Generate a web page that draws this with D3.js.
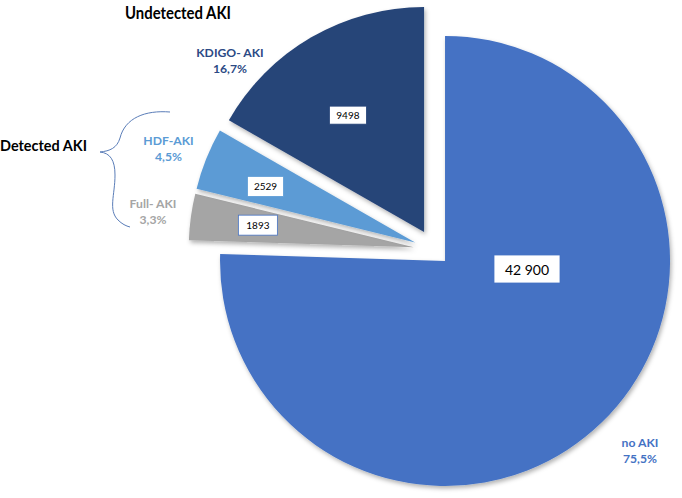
<!DOCTYPE html>
<html>
<head>
<meta charset="utf-8">
<script src="https://cdn.jsdelivr.net/npm/d3@7/dist/d3.min.js"></script>
<style>
  html, body { margin: 0; padding: 0; background: #fff; }
  svg { display: block; font-family: Lato, "Open Sans", sans-serif; }
</style>
</head>
<body>
<svg id="chart" width="682" height="498"></svg>
<script>
// ---- data ----
const categories = ["no AKI", "Full- AKI", "HDF-AKI", "KDIGO- AKI"];
const values = [42900, 1893, 2529, 9498];
const percentLabels = ["75,5%", "3,3%", "4,5%", "16,7%"];
const valueLabels = ["42 900", "1893", "2529", "9498"];
const groupLabels = ["Undetected AKI", "Detected AKI"];

// ---- styling / layout ----
const colors = ["#4472C4", "#A5A5A5", "#5B9BD5", "#264478"];
const textColors = ["#4472C4", "#A5A5A5", "#5B9BD5", "#2C4A85"];
const explode = [15, 21, 21, 21];
const cx = 434.6, cy = 250.2, R = 225;
// category label centers (x, first baseline)
const catLabelPos = [[640, 447], [153, 208], [168.5, 145], [230, 57]];
// value box: [radius fraction, angle offset (deg), width, height, font size]
const valueBox = [
  { pos: [527, 269], w: 66, h: 28, fs: 14, stroke: "#4472C4" },
  { r: 0.70, da: 0.3, w: 39, h: 20, fs: 10, stroke: "#4472C4" },
  { r: 0.71, da: -1.3, w: 36, h: 20, fs: 10, stroke: "#5B9BD5" },
  { r: 0.62, da: -3.0, w: 37, h: 18, fs: 10, stroke: "#264478" }
];

const svg = d3.select("#chart");
const defs = svg.append("defs");
const f = defs.append("filter").attr("id", "shadow")
  .attr("x", "-10%").attr("y", "-10%").attr("width", "130%").attr("height", "130%");
f.append("feDropShadow").attr("dx", 1.5).attr("dy", 2.5)
  .attr("stdDeviation", 2).attr("flood-color", "#000").attr("flood-opacity", 0.3);

const pie = d3.pie().sort(null).value(d => d)(values);
const arc = d3.arc().innerRadius(0).outerRadius(R);

const offset = (d, e) => {
  const m = (d.startAngle + d.endAngle) / 2;
  return [Math.sin(m) * e, -Math.cos(m) * e];
};

const g = svg.append("g").attr("transform", `translate(${cx},${cy})`);

const slices = g.selectAll("g.slice").data(pie).join("g")
  .attr("class", "slice")
  .attr("transform", (d, i) => { const o = offset(d, explode[i]); return `translate(${o[0]},${o[1]})`; });

slices.append("path")
  .attr("d", arc)
  .attr("fill", (d, i) => colors[i])
  .attr("filter", "url(#shadow)");

// value boxes
slices.each(function (d, i) {
  const b = valueBox[i];
  let x, y;
  if (b.pos) {
    const o = offset(d, explode[i]);
    x = b.pos[0] - cx - o[0];
    y = b.pos[1] - cy - o[1];
  } else {
    const a = (d.startAngle + d.endAngle) / 2 + b.da * Math.PI / 180;
    x = Math.sin(a) * R * b.r;
    y = -Math.cos(a) * R * b.r;
  }
  const s = d3.select(this);
  s.append("rect")
    .attr("x", x - b.w / 2).attr("y", y - b.h / 2)
    .attr("width", b.w).attr("height", b.h)
    .attr("fill", "#fff").attr("stroke", b.stroke).attr("stroke-width", 0.8);
  s.append("text")
    .attr("x", x).attr("y", y)
    .attr("text-anchor", "middle").attr("dominant-baseline", "central")
    .attr("font-size", b.fs).attr("fill", "#000")
    .text(valueLabels[i]);
});

// category labels
categories.forEach((c, i) => {
  const t = svg.append("text")
    .attr("x", catLabelPos[i][0]).attr("y", catLabelPos[i][1])
    .attr("text-anchor", "middle").attr("font-size", 12.2).attr("font-weight", "bold")
    .attr("fill", textColors[i]);
  t.append("tspan").attr("x", catLabelPos[i][0]).text(c);
  t.append("tspan").attr("x", catLabelPos[i][0]).attr("dy", 16).text(percentLabels[i]);
});

// group labels
svg.append("text").attr("x", 125).attr("y", 19)
  .attr("font-size", 16.5).attr("font-weight", "bold").attr("fill", "#000")
  .attr("textLength", 106).attr("lengthAdjust", "spacingAndGlyphs")
  .text(groupLabels[0]);
svg.append("text").attr("x", 0).attr("y", 151)
  .attr("font-size", 15).attr("font-weight", "bold").attr("fill", "#000")
  .attr("textLength", 87).attr("lengthAdjust", "spacingAndGlyphs")
  .text(groupLabels[1]);

// brace
svg.append("path")
  .attr("d", "M170,112 C145,110 125,118 120,138 C117,148 110,151 100,152 C110,153 115,160 115,175 C115,195 108,210 118,220 C122,224 126,226 130,227")
  .attr("fill", "none").attr("stroke", "#5A7DB8").attr("stroke-width", 1);
</script>
</body>
</html>
